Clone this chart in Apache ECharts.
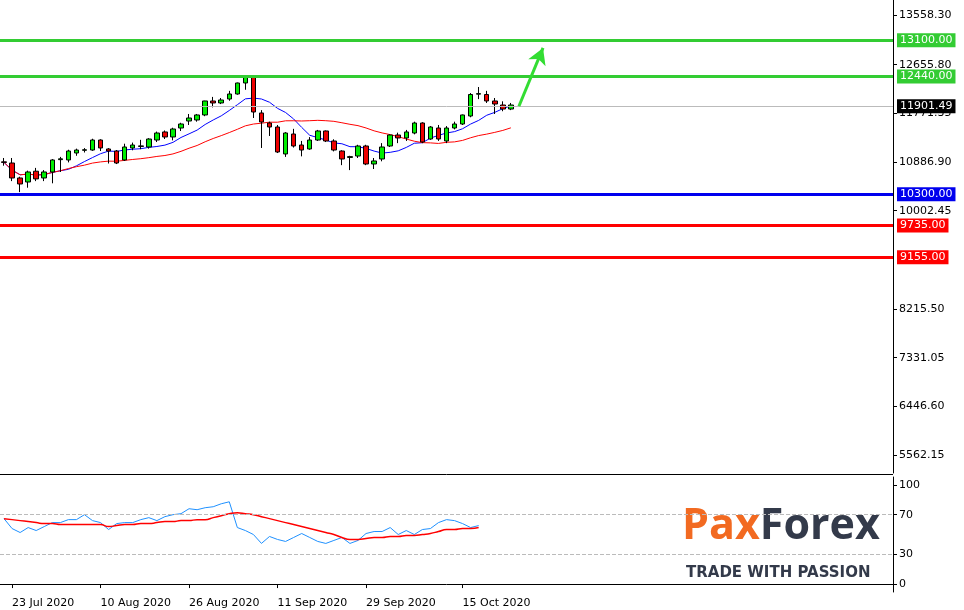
<!DOCTYPE html>
<html><head><meta charset="utf-8">
<script src="https://cdn.jsdelivr.net/npm/echarts@6/dist/echarts.min.js"></script>
<style>html,body{margin:0;padding:0;background:#fff}#c{width:964px;height:610px}</style>
</head><body><div id="c"></div>
<script>
// [open, close, low, high]
const candles = [
[10890,10880,10820,10960],[10869,10597,10540,10960],[10597,10488,10340,10620],[10524,10706,10420,10730],
[10720,10580,10540,10780],[10597,10706,10540,10740],[10706,10924,10500,10940],[10930,10945,10706,10980],
[10924,11087,10880,11110],[11051,11105,11000,11130],[11100,11110,11060,11140],[11105,11287,11090,11310],
[11287,11142,11087,11300],[11124,11087,10860,11140],[11087,10869,10850,11105],[10924,11160,10906,11220],
[11142,11196,11100,11240],[11170,11180,11120,11290],[11160,11305,11130,11320],[11287,11414,11250,11440],
[11433,11342,11305,11460],[11342,11487,11280,11510],[11505,11578,11450,11600],[11632,11687,11560,11760],
[11651,11742,11620,11760],[11742,11996,11720,12000],[11996,11960,11880,12070],[11960,12014,11940,12050],
[12032,12123,12000,12180],[12123,12323,12110,12330],[12323,12432,12200,12440],[12432,11796,11687,12440],
[11778,11614,11142,11830],[11596,11523,11360,11620],[11523,11069,11050,11560],[11033,11414,10980,11430],
[11396,11178,11150,11490],[11196,11105,10990,11270],[11124,11287,11110,11340],[11287,11451,11270,11470],
[11451,11269,11250,11460],[11269,11105,11080,11300],[11087,10942,10830,11100],[10970,10985,10740,11000],
[10996,11178,10960,11200],[11178,10851,10830,11200],[10851,10906,10760,10960],[10942,11160,10900,11230],
[11178,11378,11160,11390],[11378,11324,11230,11420],[11324,11433,11270,11470],[11414,11596,11390,11620],
[11596,11251,11230,11610],[11305,11523,11290,11540],[11505,11305,11270,11560],[11269,11505,11230,11540],
[11505,11578,11480,11620],[11578,11742,11560,11750],[11723,12114,11700,12140],[12120,12130,12030,12250],
[12114,11996,11960,12180],[11996,11941,11760,12050],[11923,11850,11810,11990],[11850,11923,11830,11960]
];
const oscFast = [66,56,52,57,54,58,62,62,65,65,70,64,62,55,61,62,62,65,67,64,68,70,71,76,75,77,78,81,83,57,54,50,41,48,45,43,47,51,47,43,41,44,47,41,44,51,53,53,57,50,54,50,55,56,62,65,64,61,57,59];
const oscSlow = [66,65,64,63,62,61,61,60,60,60,60,60,60,58,59,60,60,61,61,62,63,63,64,64,65,65,67,69,71,72,71,70,68,66,64,62,60,58,56,54,52,50,47,45,45,46,47,47,48,48,49,49,50,51,53,55,55,56,56,57];
const dateLabels = {1:'23 Jul 2020',12:'10 Aug 2020',23:'26 Aug 2020',34:'11 Sep 2020',45:'29 Sep 2020',57:'15 Oct 2020'};
const priceTicks = [13558.30,12655.80,11771.35,10886.90,10002.45,8215.50,7331.05,6446.60,5562.15];
const oscTicks = [0,30,70,100];
const levels = [{v:13100,c:'#33cc33',t:'13100.00'},{v:12440,c:'#33cc33',t:'12440.00'},{v:10300,c:'#0000ee',t:'10300.00'},{v:9735,c:'#ff0000',t:'9735.00'},{v:9155,c:'#ff0000',t:'9155.00'}];
const lastPrice = 11901.49;
const arrow = [[64,11900],[67,12960]];
const N = 111;

const cats = []; for (let i=0;i<N;i++) cats.push(String(i));
const closes = candles.map(d=>d[1]);
function ma(p){return closes.map((_,i)=>{const s=closes.slice(Math.max(0,i-p+1),i+1);return +(s.reduce((a,b)=>a+b,0)/s.length).toFixed(2);});}

const ml = levels.map(l=>({yAxis:l.v,lineStyle:{color:l.c,width:3,type:'solid'},label:{show:true,position:'end',formatter:l.t,color:'#fff',backgroundColor:l.c,padding:[2,3,1,3],fontSize:11,fontFamily:'Verdana, DejaVu Sans',distance:4}}));
ml.push({yAxis:lastPrice,lineStyle:{color:'#bbbbbb',width:1,type:'solid'},label:{show:true,position:'end',formatter:'11901.49',color:'#fff',backgroundColor:'#000',padding:[2,3,1,3],fontSize:11,fontFamily:'Verdana, DejaVu Sans',distance:4}});
ml.push([{coord:arrow[0].map((v,k)=>k?v:String(v)),symbol:'none'},{coord:arrow[1].map((v,k)=>k?v:String(v)),symbol:'arrow',symbolSize:[14,16],lineStyle:{color:'#33dd33',width:3,type:'solid'},label:{show:false}}]);

const ch = echarts.init(document.getElementById('c'));
ch.setOption({
 animation:false,
 textStyle:{fontFamily:'Verdana, DejaVu Sans'},
 grid:[{left:0,right:71,top:0,height:473,outerBoundsMode:'none'},{left:0,right:71,top:477,height:115,outerBoundsMode:'none'}],
 xAxis:[
  {type:'category',data:cats,gridIndex:0,axisLine:{show:false},axisTick:{show:false},axisLabel:{show:false}},
  {type:'category',data:cats,gridIndex:1,axisLine:{show:true,lineStyle:{color:'#000'}},axisTick:{show:true,length:4,lineStyle:{color:'#000'},interval:(i)=>!!dateLabels[i],alignWithLabel:true},axisLabel:{interval:(i)=>!!dateLabels[i],align:'left',color:'#000',fontSize:11,margin:6,formatter:(v)=>dateLabels[v]||''}}
 ],
 yAxis:[
  {type:'value',gridIndex:0,position:'right',min:5236,max:13831,axisLine:{show:true,lineStyle:{color:'#000'}},splitLine:{show:false},axisTick:{show:true,length:4,customValues:priceTicks,lineStyle:{color:'#000'}},axisLabel:{customValues:priceTicks,formatter:v=>v.toFixed(2),color:'#000',fontSize:11,margin:6}},
  {type:'value',gridIndex:1,position:'right',min:-8,max:108,axisLine:{show:true,lineStyle:{color:'#000'}},splitLine:{show:false},axisTick:{show:true,length:4,customValues:oscTicks,lineStyle:{color:'#000'}},axisLabel:{customValues:oscTicks,color:'#000',fontSize:11,margin:6}}
 ],
 series:[
  {type:'candlestick',data:candles,barWidth:5,itemStyle:{color:'#00ee00',color0:'#ee0000',borderColor:'#000',borderColor0:'#000',borderWidth:1},
   markLine:{silent:true,symbol:'none',data:ml}},
  {type:'line',data:ma(8),symbol:'none',lineStyle:{color:'#0000ff',width:1},z:1},
  {type:'line',data:ma(21),symbol:'none',lineStyle:{color:'#ff0000',width:1},z:1},
  {type:'line',xAxisIndex:1,yAxisIndex:1,data:oscFast,symbol:'none',lineStyle:{color:'#1e90ff',width:1},
   markLine:{silent:true,symbol:'none',label:{show:false},lineStyle:{color:'#bbbbbb',type:'dashed',width:1},data:[{yAxis:70},{yAxis:30}]}},
  {type:'line',xAxisIndex:1,yAxisIndex:1,data:oscSlow,symbol:'none',smooth:true,lineStyle:{color:'#ff0000',width:1.5}}
 ],
 graphic:[
  {type:'line',shape:{x1:0,y1:474.5,x2:893,y2:474.5},style:{stroke:'#000',lineWidth:1}},
  {type:'text',left:682,top:505,style:{rich:{a:{fill:'#f26a21',fontSize:43,fontWeight:'bold',fontFamily:'Open Sans'},b:{fill:'#333a4a',fontSize:43,fontWeight:'bold',fontFamily:'Open Sans'}},text:'{a|Pax}{b|Forex}'}},
  {type:'text',left:686,top:566,style:{text:'TRADE WITH PASSION',fill:'#333a4a',fontSize:15,fontWeight:'bold',fontFamily:'DejaVu Sans'}}
 ]
});
</script></body></html>
